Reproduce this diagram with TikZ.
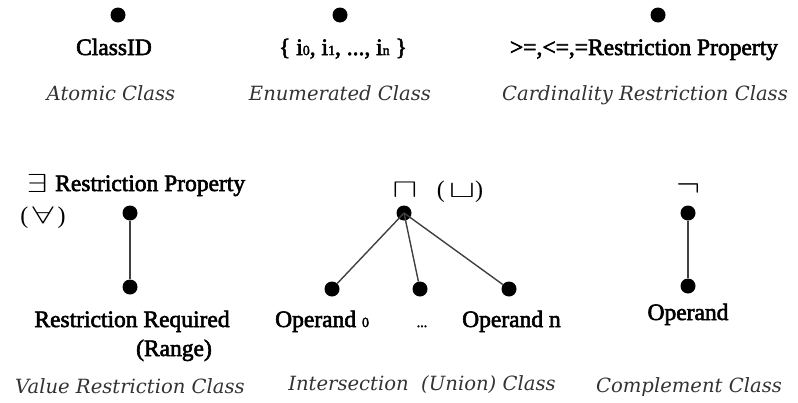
\RequirePackage{fix-cm}
\documentclass[tikz,border=0pt]{standalone}
\usepackage{fontspec}
\setmainfont{Liberation Serif}
\newfontfamily\lblfont{Liberation Serif}[FakeBold=2.5]
\newfontfamily\capfont{DejaVu Serif}
\begin{document}
\begin{tikzpicture}[x=1pt,y=-1pt,
  dot/.style={circle,fill=black,inner sep=0pt,minimum size=15pt},
  lbl/.style={font=\lblfont\fontsize{23.5}{26}\selectfont,inner sep=0pt,anchor=base},
  captxt/.style={font=\capfont\itshape\fontsize{19.6}{22}\selectfont,text=black!80,inner sep=0pt,anchor=base},
  sym/.style={inner sep=0pt,anchor=base},
  link/.style={draw=black!75,line width=1.4pt}]
\useasboundingbox (0,0) rectangle (798,402);
\newcommand{\idx}[1]{{\fontsize{14}{16}\selectfont #1}}

% --- top row: classes without edges
\node[dot] (atom) at (118,15) {};
\node[lbl] (atomtxt) at (114,55) {ClassID};
\node[captxt] (atomcap) at (111,100) {Atomic Class};

\node[dot] (enum) at (340,15) {};
\node[lbl] (enumtxt) at (343,55) {\{ i\idx{0}, i\idx{1}, ..., i\idx{n} \}};
\node[captxt] (enumcap) at (340,100) {Enumerated Class};

\node[dot] (card) at (658,15) {};
\node[lbl] (cardtxt) at (644,55) {>=,<=,=Restriction Property};
\node[captxt] (cardcap) at (645,100) {Cardinality Restriction Class};

% --- value restriction
\node[sym,font=\fontsize{26}{28}\selectfont] (ex) at (37,192) {\scalebox{1.45}[1]{$\exists$}};
\node[lbl,anchor=base west] (vprop) at (55,191) {Restriction Property};
\node[sym,font=\fontsize{24}{26}\selectfont] (fa) at (43,223) {(\,\scalebox{1.6}[1]{$\forall$}\,)};
\node[dot] (vtop) at (130,213) {};
\node[dot] (vbot) at (130,287) {};
\draw[link] (vtop) -- (vbot);
\node[lbl] (vreq) at (132,327) {Restriction Required};
\node[lbl] (vrange) at (174,356) {(Range)};
\node[captxt] (vcap) at (130,393) {Value Restriction Class};

% --- intersection (union)
\node[sym,font=\fontsize{26}{28}\selectfont] (meet) at (405,197) {\scalebox{1.45}[1]{$\sqcap$}};
\node[sym,font=\fontsize{24}{26}\selectfont] (join) at (460,197) {(\,\scalebox{1.65}[1]{$\sqcup$})};
\node[dot] (itop) at (404,213) {};
\node[dot] (ia) at (332,289) {};
\node[dot] (ib) at (420,289) {};
\node[dot] (ic) at (509,289) {};
\draw[link] (itop.center) -- (ia);
\draw[link] (itop.center) -- (ib);
\draw[link] (itop.center) -- (ic);
\node[lbl,anchor=base west] (iatxt) at (275,327) {Operand \idx{0}};
\node[lbl] (ibtxt) at (422,327) {\idx{...}};
\node[lbl,anchor=base west] (ictxt) at (462,327) {Operand n};
\node[captxt] (icap) at (422,390) {Intersection\ \ (Union) Class};

% --- complement
\node[sym,font=\fontsize{36}{38}\selectfont] (neg) at (688,196) {$\neg$};
\node[dot] (ctop) at (688,213) {};
\node[dot] (cbot) at (688,286) {};
\draw[link] (ctop) -- (cbot);
\node[lbl] (ctxt) at (688,320) {Operand};
\node[captxt] (ccap) at (689,392) {Complement Class};
\end{tikzpicture}
\end{document}
